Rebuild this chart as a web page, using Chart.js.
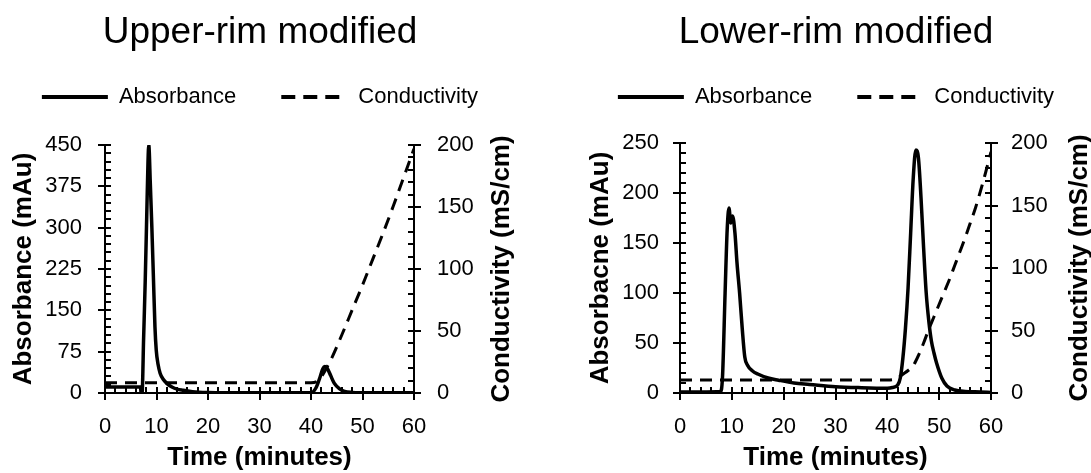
<!DOCTYPE html>
<html><head><meta charset="utf-8">
<script src="https://cdn.jsdelivr.net/npm/chart.js@4/dist/chart.umd.min.js"></script>
<style>
html,body{margin:0;padding:0;background:#fff;width:1091px;height:473px;overflow:hidden;position:relative}
canvas{position:absolute;top:0}
#l{left:-40px}
#r{left:500px}
</style></head><body>
<canvas id="l" width="600" height="473"></canvas>
<canvas id="r" width="640" height="473"></canvas>
<script>
// ---------- data ----------
const titles = ['Upper-rim modified', 'Lower-rim modified'];
const seriesNames = ['Absorbance', 'Conductivity'];
const xTitle = 'Time (minutes)';
const yTitles = ['Absorbance (mAu)', 'Absorbacne (mAu)'];
const y2Title = 'Conductivity (mS/cm)';

const upperTime = [0, 3, 6.9, 7.0, 7.2, 7.5, 7.8, 8.1, 8.35, 8.5, 8.8, 9.1, 9.4, 9.7, 9.95, 10.3, 10.7, 11.3, 12, 13, 14, 15.2, 17, 20, 25, 30, 35, 40, 41, 41.8, 42.3, 42.7, 43.2, 43.8, 44.5, 45.5, 46.5, 48, 50, 55, 60];
const upperAbs  = [11, 11, 11, 0, 0, 100, 200, 320, 420, 450, 380, 300, 210, 120, 78, 52, 36, 25, 17.5, 11, 7, 5, 2.5, 1, 0.5, 0.3, 0.3, 0.3, 10, 30, 44, 48, 44, 32, 18, 8, 3, 1, 0.5, 0.3, 0.3];
const upperCondTime = [0, 40, 41, 42, 43, 44, 46, 48, 50, 52, 54, 56, 58, 60];
const upperCond     = [8.3, 8.3, 9, 13, 20, 28, 47, 67, 87, 108, 129, 151, 174, 197];

const lowerTime = [0, 4, 7.8, 8.2, 8.7, 9.1, 9.45, 9.8, 10.15, 10.6, 11.0, 11.5, 12.0, 12.5, 13, 14, 15, 17, 19, 22, 25, 30, 35, 40, 41, 42, 42.5, 43, 43.5, 44, 44.5, 45, 45.5, 46, 46.5, 47, 47.5, 48, 48.5, 49, 49.5, 50.5, 51.5, 53, 55, 58, 60];
const lowerAbs  = [1, 1, 1.5, 16, 100, 163, 185, 170, 177, 160, 130, 100, 65, 36, 28, 22, 19, 15, 12.8, 10, 8.6, 6.3, 5.3, 4.8, 5.5, 8, 15, 35, 65, 105, 160, 215, 243, 235, 195, 145, 100, 72, 52, 40, 30, 15, 7, 3, 1.5, 1, 0.5];
const lowerCondTime = [0, 40, 41, 42, 43, 44, 45, 46, 47, 48, 49, 50, 51, 52, 53, 54, 55, 56, 57, 58, 59, 60];
const lowerCond     = [10.4, 10.4, 10.6, 12, 15, 18, 22, 30, 40, 51, 61, 71, 81, 91, 102, 113, 124, 136, 148, 162, 177, 193];

const xTicks = {min: 0, max: 60, step: 10, minor: 2};
const upperY = {min: 0, max: 450, step: 75, minor: 15};
const lowerY = {min: 0, max: 250, step: 50, minor: 10};
const condY  = {min: 0, max: 200, step: 50, minor: 10};

// ---------- helpers ----------
const FONT = '"Liberation Sans", Arial, Helvetica, sans-serif';
Chart.defaults.font.family = FONT;
Chart.defaults.color = '#000';

const pts = (xs, ys) => xs.map((x, i) => ({x: x, y: ys[i]}));

const minorTickPlugin = {
  id: 'minorTicks',
  afterDraw(chart, args, opts) {
    const ctx = chart.ctx, ca = chart.chartArea;
    ctx.save();
    ctx.strokeStyle = '#000';
    ctx.lineWidth = 2;
    ['x', 'y', 'y2'].forEach(id => {
      const s = chart.scales[id];
      const step = opts[id];
      if (!s || !step) return;
      for (let v = s.min; v <= s.max + 1e-9; v += step) {
        const p = Math.round(s.getPixelForValue(v));
        ctx.beginPath();
        if (id === 'x') { ctx.moveTo(p, ca.bottom); ctx.lineTo(p, ca.bottom - 6); }
        else if (id === 'y') { ctx.moveTo(ca.left, p); ctx.lineTo(ca.left + 6, p); }
        else { ctx.moveTo(ca.right, p); ctx.lineTo(ca.right - 6, p); }
        ctx.stroke();
      }
    });
    if (opts.rightTitle) {
      ctx.save();
      ctx.translate(opts.rightTitleX, (ca.top + ca.bottom) / 2);
      ctx.rotate(-Math.PI / 2);
      ctx.font = 'bold 26px ' + FONT;
      ctx.fillStyle = '#000';
      ctx.textAlign = 'center';
      ctx.textBaseline = 'middle';
      ctx.fillText(opts.rightTitle, 0, 0);
      ctx.restore();
    }
    ctx.restore();
  }
};

function makeChart(canvasId, cfg) {
  const axisFont = {size: 22};
  const grid = {drawOnChartArea: false, drawTicks: true, tickLength: 7, color: '#000', lineWidth: 2};
  const border = {display: true, color: '#000', width: 2};
  return new Chart(document.getElementById(canvasId), {
    type: 'line',
    data: {
      datasets: [
        {label: seriesNames[0], data: pts(cfg.absT, cfg.abs), yAxisID: 'y',
         borderColor: '#000', backgroundColor: '#000', borderWidth: 3.5, pointRadius: 0,
         cubicInterpolationMode: 'monotone', fill: false},
        {label: seriesNames[1], data: pts(cfg.condT, cfg.cond), yAxisID: 'y2',
         borderColor: '#000', backgroundColor: '#000', borderWidth: 3, borderDash: [12, 8], pointRadius: 0,
         cubicInterpolationMode: 'monotone', fill: false}
      ]
    },
    options: {
      responsive: false,
      animation: false,
      events: [],
      layout: {padding: {left: cfg.padL, right: cfg.padR, top: 0, bottom: 0}},
      plugins: {
        title: {display: true, text: cfg.title, color: '#000',
                font: {size: 37, weight: 'normal', lineHeight: 1.2},
                padding: {top: 10.8, bottom: -14.2}},
        legend: {
          display: true, position: 'top',
          labels: {
            color: '#000', font: {size: 22},
            usePointStyle: true, pointStyle: 'line', pointStyleWidth: 66,
            boxHeight: 22, padding: 45,
            generateLabels(chart) {
              const items = Chart.defaults.plugins.legend.labels.generateLabels(chart);
              items.forEach((it, i) => {
                it.lineWidth = 4;
                it.strokeStyle = '#000';
                it.pointStyle = 'line';
                it.lineDash = i === 1 ? [14, 8] : [];
                it.fontColor = '#000';
              });
              return items;
            }
          }
        },
        tooltip: {enabled: false},
        minorTicks: {x: xTicks.minor, y: cfg.yScale.minor, y2: condY.minor,
                     rightTitle: y2Title, rightTitleX: cfg.rightTitleX}
      },
      scales: {
        x: {
          type: 'linear', position: 'bottom',
          min: xTicks.min, max: xTicks.max,
          ticks: {stepSize: xTicks.step, font: axisFont, color: '#000', padding: 14, maxRotation: 0, autoSkip: false},
          grid: grid, border: border,
          title: {display: true, text: xTitle, color: '#000', font: {size: 26, weight: 'bold'}, padding: {top: 0, bottom: 0}},
          afterFit(s) { s.height = 80; }
        },
        y: {
          type: 'linear', position: 'left',
          min: cfg.yScale.min, max: cfg.yScale.max,
          ticks: {stepSize: cfg.yScale.step, font: axisFont, color: '#000', padding: cfg.yPad, autoSkip: false},
          grid: grid, border: border,
          title: {display: true, text: cfg.yTitle, color: '#000', font: {size: 26, weight: 'bold'}, padding: {top: cfg.yTitlePad, bottom: 0}},
          afterFit(s) { s.width = cfg.leftW; }
        },
        y2: {
          type: 'linear', position: 'right',
          min: condY.min, max: condY.max,
          ticks: {stepSize: condY.step, font: axisFont, color: '#000', padding: cfg.y2Pad, autoSkip: false},
          grid: grid, border: border,
          title: {display: false},
          afterFit(s) { s.width = cfg.rightW; }
        },
        xTop: {
          type: 'linear', position: 'top', display: true,
          ticks: {display: false}, grid: {display: false, drawTicks: false}, border: {display: false},
          afterFit(s) { s.height = cfg.topH; }
        }
      }
    },
    plugins: [minorTickPlugin]
  });
}

// left canvas spans page x -40..560, right canvas 500..1140 (overflow clipped)
makeChart('l', {
  title: titles[0], yTitle: yTitles[0], yScale: upperY,
  absT: upperTime, abs: upperAbs, condT: upperCondTime, cond: upperCond,
  padL: 0, padR: 0, leftW: 145, rightW: 146, topH: 27,
  yTitlePad: 48.4, yPad: 16, y2Pad: 16, rightTitleX: 542
});
makeChart('r', {
  title: titles[1], yTitle: yTitles[1], yScale: lowerY,
  absT: lowerTime, abs: lowerAbs, condT: lowerCondTime, cond: lowerCond,
  padL: 32, padR: 0, leftW: 148, rightW: 149, topH: 25,
  yTitlePad: 53.4, yPad: 14, y2Pad: 13, rightTitleX: 579.5
});
</script></body></html>
